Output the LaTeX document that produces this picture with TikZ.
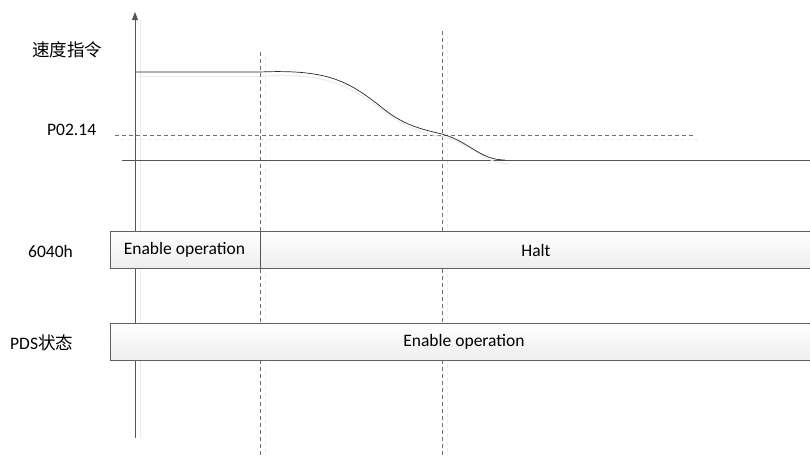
\documentclass[tikz,border=0pt]{standalone}
\usepackage{fontspec}
\setmainfont{Carlito}
\newfontfamily\cjk{Noto Sans CJK SC}
\usetikzlibrary{arrows.meta}
\definecolor{lncol}{HTML}{555555}
\definecolor{dashcol}{HTML}{6E6E6E}
\definecolor{boxtop}{HTML}{FFFFFF}
\definecolor{boxbot}{HTML}{EEEEEE}
\definecolor{shadowcol}{HTML}{EBEBEB}
\tikzset{
  axisline/.style={draw=lncol, line width=0.9pt},
  guide/.style={draw=dashcol, line width=0.8pt, dash pattern=on 4pt off 3pt},
  shguide/.style={draw=shadowcol, line width=0.8pt, dash pattern=on 4pt off 3pt},
  sigbox/.style={draw=gray!75!black, line width=0.7pt, top color=boxtop, bottom color=boxbot},
  lbl/.style={font=\fontsize{17.5}{20}\selectfont, text=black, inner sep=0pt},
  curve/.style={draw=black!85, line width=0.7pt},
  shadow/.style={draw=shadowcol, line width=1pt}
}
\begin{document}
\begin{tikzpicture}[x=1pt,y=-1pt]
\useasboundingbox (0,0) rectangle (810,467);
% shadows
\draw[shadow] (140,438) -- (140,20);
\draw[shadow] (140,76) -- (265,76);
\draw[shguide] (265,56) -- (265,456);
\draw[shguide] (447,35) -- (447,456);
\draw[shguide] (120,139) -- (698,139);
% guides
\coordinate (g1t) at (260,52);
\coordinate (g1b) at (260,456);
\coordinate (g2t) at (442,31);
\coordinate (g2b) at (442,456);
\coordinate (hl) at (115,135);
\coordinate (hr) at (693,135);
\draw[guide] (g1t) -- (g1b);
\draw[guide] (g2t) -- (g2b);
\draw[guide] (hl) -- (hr);
% axes
\coordinate (ab) at (135,438);
\coordinate (at) at (135,12);
\draw[axisline, -{Triangle[length=8pt,width=6pt]}] (ab) -- (at);
\coordinate (zl) at (122,160);
\coordinate (zr) at (810,160);
\draw[draw=lncol, line width=0.8pt] (zl) -- (zr);
% speed curve
\coordinate (s0) at (135,72);
\coordinate (s1) at (260,72);
\coordinate (s2) at (442,134);
\coordinate (s3) at (505,160);
\draw[shadow] (265,76) .. controls (330,73) and (350,86) .. (388,114)
  .. controls (408,130) and (428,134) .. (447,138)
  .. controls (475,146) and (485,164) .. (510,164);
\draw[curve] (s0) -- (s1) .. controls (330,69) and (350,82) .. (385,110)
  .. controls (405,126) and (425,130) .. (s2)
  .. controls (470,142) and (480,160) .. (s3);
% boxes (drawn over the guides)
\path[sigbox] (110,231) rectangle (810,268);
\path[sigbox] (110,323) rectangle (810,360);
\draw[draw=lncol, line width=0.8pt] (260,231) -- (260,268);
% labels
\node[lbl, anchor=west] (t1) at (32,50) {\cjk 速度指令};
\node[lbl, anchor=west] (t2) at (47,130) {P02.14};
\node[lbl, anchor=west] (t3) at (28,251) {6040h};
\node[lbl, anchor=west] (t4) at (10,343) {PDS\cjk 状态};
\node[lbl] (t5) at (184.5,250) {Enable operation};
\node[lbl] (t6) at (536,250) {Halt};
\node[lbl] (t7) at (464,342) {Enable operation};
\end{tikzpicture}
\end{document}
